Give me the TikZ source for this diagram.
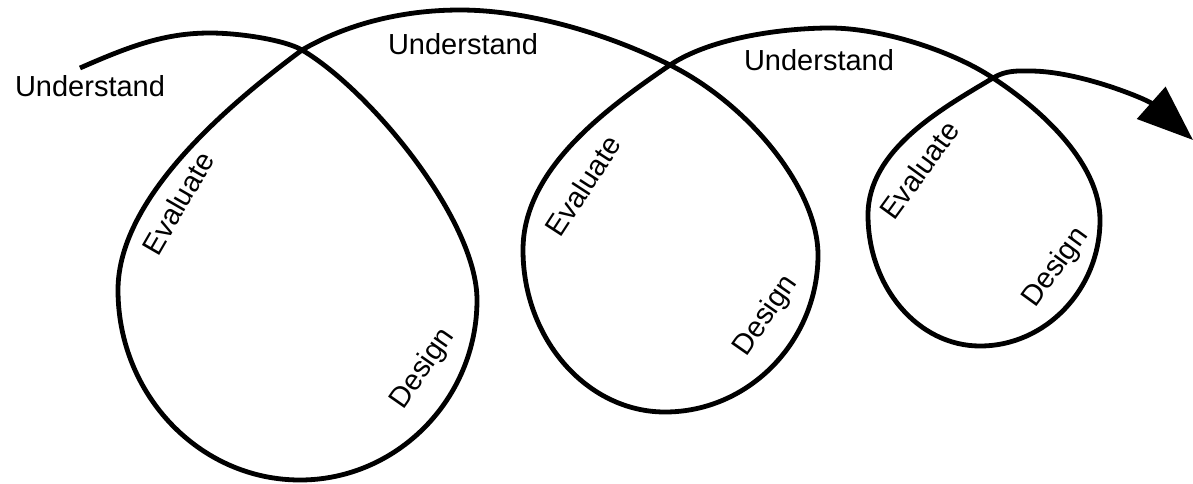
\documentclass[tikz,border=0pt]{standalone}
\usepackage{fontspec}
\setmainfont{Liberation Sans}
\usepackage{tikz}
\usetikzlibrary{arrows.meta,calc}
\colorlet{spiral}{black}
\tikzset{
  phase/.style={font=\fontsize{14.5}{17}\selectfont,inner sep=0pt},
  path line/.style={line width=2.4pt,spiral,line join=round}
}

\begin{document}
\begin{tikzpicture}[x=0.5pt,y=-0.5pt,>=Latex]
\useasboundingbox (0,0) rectangle (1193,483);
% the spiral: three loops, each crossing itself once
\draw[path line,-{Triangle[length=28pt,width=21pt]}]
  (80,68) .. controls (130,46) and (165,33) .. (210,33)
  .. controls (240,33) and (285,40) .. (302,50)
  % first loop
  .. controls (370,90) and (477,220) .. (477,300)
  .. controls (477,399) and (397,480) .. (300,480)
  .. controls (200,480) and (118,395) .. (118,290)
  .. controls (118,195) and (235,100) .. (302,50)
  .. controls (345,25) and (400,10) .. (460,10)
  .. controls (530,10) and (610,35) .. (670,65)
  % second loop
  .. controls (750,105) and (818,190) .. (818,255)
  .. controls (818,341) and (749,412) .. (665,412)
  .. controls (587,412) and (523,339) .. (523,250)
  .. controls (523,170) and (604,110) .. (670,65)
  .. controls (712,37) and (785,28) .. (830,28)
  .. controls (880,28) and (951,50) .. (993,78)
  % third loop
  .. controls (1045,112) and (1100,165) .. (1100,220)
  .. controls (1100,289) and (1046,346) .. (980,346)
  .. controls (918,346) and (868,287) .. (868,215)
  .. controls (868,150) and (941,109) .. (993,78)
  .. controls (1006,70) and (1018,71) .. (1030,71)
  .. controls (1080,71) and (1148,100) .. (1193,140);
% labels along the path
\node[phase] (und1) at (90,86) {Understand};
\node[phase] (und2) at (463,44) {Understand};
\node[phase] (und3) at (819,60) {Understand};
\node[phase,rotate=60] (eval1) at (178,203) {Evaluate};
\node[phase,rotate=57] (eval2) at (583,186) {Evaluate};
\node[phase,rotate=54] (eval3) at (919,170) {Evaluate};
\node[phase,rotate=55] (des1) at (423,369) {Design};
\node[phase,rotate=55] (des2) at (766,316) {Design};
\node[phase,rotate=54] (des3) at (1056,268) {Design};
\end{tikzpicture}
\end{document}
